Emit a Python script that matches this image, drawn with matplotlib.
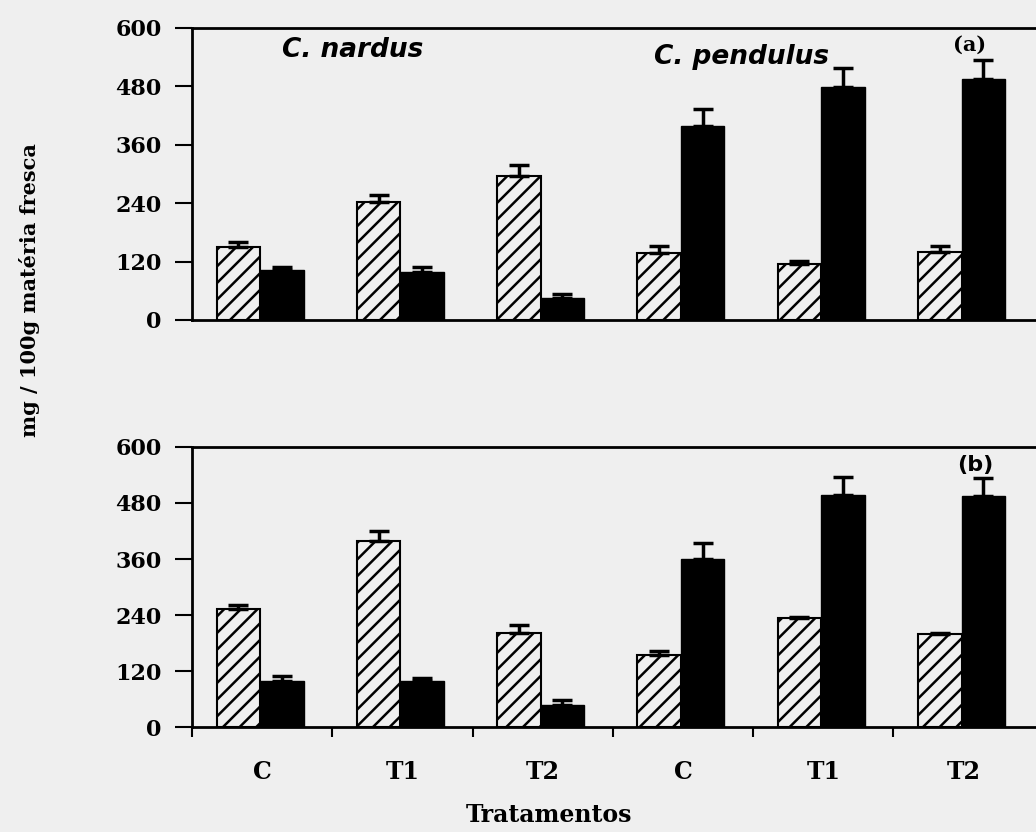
import numpy as np
import matplotlib
matplotlib.use("Agg")
import matplotlib.pyplot as plt

# tratamentos (C. nardus: C, T1, T2 ; C. pendulus: C, T1, T2)
tratamentos = ["C", "T1", "T2", "C", "T1", "T2"]

# painel (a)
a_hatched = [151, 242, 296, 138, 115, 140]
a_hatched_err = [10, 14, 22, 15, 7, 13]
a_black = [102, 98, 46, 398, 478, 495]
a_black_err = [6, 11, 8, 35, 40, 39]

# painel (b)
b_hatched = [253, 398, 202, 154, 234, 199]
b_hatched_err = [8, 21, 16, 9, 2, 3]
b_black = [98, 98, 48, 359, 498, 494]
b_black_err = [11, 7, 9, 36, 38, 40]

yticks = [0, 120, 240, 360, 480, 600]

bg = "#efefef"
serif = "DejaVu Serif"
sans = "DejaVu Sans"

fig = plt.figure(figsize=(10.36, 8.32), dpi=100, facecolor=bg)
plt.rcParams["hatch.linewidth"] = 1.8

W = 1036.0
H = 832.0
left = 192 / W
width = (1045 - 192) / W
ax_a = fig.add_axes([left, 1 - 320 / H, width, 292 / H])
ax_b = fig.add_axes([left, 1 - 727 / H, width, 280 / H])

x = np.arange(len(tratamentos))
bw = 0.31


def draw_panel(ax, hatched, h_err, black, b_err, xticks_on):
    ax.set_facecolor(bg)
    ax.bar(x + 0.33, hatched, bw, color=bg, edgecolor="black", hatch="//",
           linewidth=1.5, zorder=2)
    ax.bar(x + 0.64, black, bw, color="black", edgecolor="black", zorder=2)
    ax.errorbar(x + 0.33, hatched, yerr=[np.zeros(6), h_err], fmt="none",
                ecolor="black", elinewidth=2.5, capsize=7, capthick=2.5, zorder=3)
    ax.errorbar(x + 0.64, black, yerr=[np.zeros(6), b_err], fmt="none",
                ecolor="black", elinewidth=2.5, capsize=7, capthick=2.5, zorder=3)
    ax.set_xlim(0, 6.08)
    ax.set_ylim(0, 600)
    ax.set_yticks(yticks)
    ax.set_yticklabels([str(v) for v in yticks], fontfamily=serif,
                       fontweight="bold", fontsize=16)
    ax.tick_params(axis="y", direction="out", length=12, width=1.5, pad=10)
    for s in ["left", "bottom", "top"]:
        ax.spines[s].set_linewidth(2)
    ax.spines["right"].set_visible(False)
    if xticks_on:
        ax.set_xticks(np.arange(0, 6))
        ax.set_xticklabels([])
        ax.set_xticks(x + 0.5, minor=True)
        ax.set_xticklabels(tratamentos, minor=True, fontfamily=serif,
                           fontweight="bold", fontsize=17)
        ax.tick_params(axis="x", which="major", direction="out", length=7, width=1.5)
        ax.tick_params(axis="x", which="minor", length=0, pad=24)
    else:
        ax.set_xticks([])


draw_panel(ax_a, a_hatched, a_hatched_err, a_black, a_black_err, False)
draw_panel(ax_b, b_hatched, b_hatched_err, b_black, b_black_err, True)

fig.text(353 / W, 1 - 50 / H, "C. nardus", ha="center", va="center",
         fontfamily=sans, fontweight="bold", fontstyle="italic", fontsize=19)
fig.text(742 / W, 1 - 57 / H, "C. pendulus", ha="center", va="center",
         fontfamily=sans, fontweight="bold", fontstyle="italic", fontsize=19)
fig.text(970 / W, 1 - 45 / H, "(a)", ha="center", va="center",
         fontfamily=serif, fontweight="bold", fontsize=15)
fig.text(975 / W, 1 - 465 / H, "(b)", ha="center", va="center",
         fontfamily=sans, fontweight="bold", fontsize=16)

fig.text(30 / W, 1 - 290 / H, "mg / 100g matéria fresca", rotation=90,
         ha="center", va="center", fontfamily=serif, fontweight="bold", fontsize=15)
fig.text(549 / W, 1 - 815 / H, "Tratamentos", ha="center", va="center",
         fontfamily=serif, fontweight="bold", fontsize=17)

fig.savefig("out.png", dpi=100, facecolor=bg)
